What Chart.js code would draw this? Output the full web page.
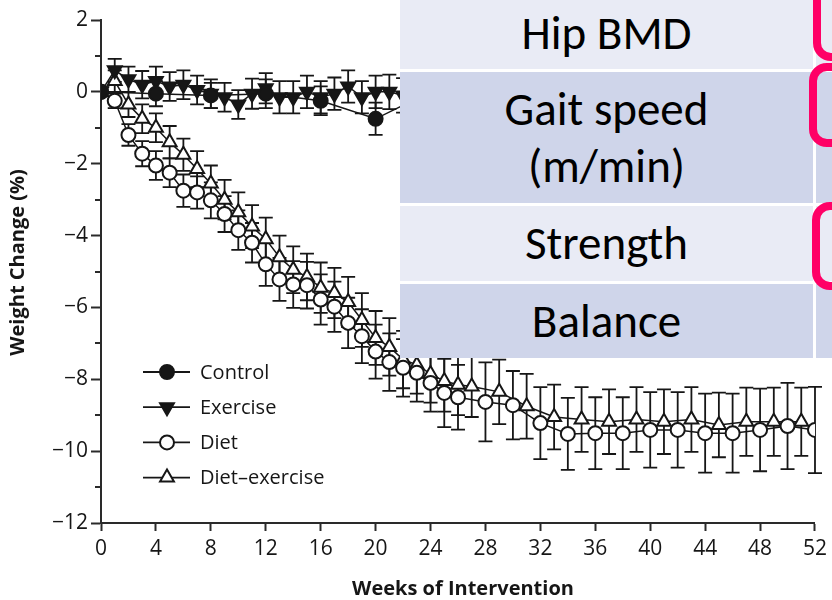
<!DOCTYPE html>
<html>
<head>
<meta charset="utf-8">
<script src="https://cdn.jsdelivr.net/npm/chart.js@4.4.1/dist/chart.umd.min.js"></script>
<style>
  html, body { margin: 0; padding: 0; background: #fff; }
  #stage { position: relative; width: 832px; height: 600px; overflow: hidden; background: #fff; }
  #chart { position: absolute; left: 0; top: 0; }
  .cell {
    position: absolute; display: flex; align-items: center; justify-content: center;
    text-align: center; font-family: Calibri, Carlito, Lato, sans-serif;
    font-size: 47px; line-height: 57px; color: #000;
  }
  .light { background: #E9EBF5; }
  .dark { background: #CFD5EA; }
  .bracket { position: absolute; border: 8px solid #FF0066; border-radius: 18px; box-sizing: border-box; }
</style>
</head>
<body>
<div id="stage">
  <canvas id="chart" width="832" height="600"></canvas>

  <!-- outcome table laid over the upper right of the figure -->
  <div class="cell light" style="left:400px;top:-2px;width:413px;height:71px">Hip BMD</div>
  <div class="cell light" style="left:816px;top:-2px;width:30px;height:71px"></div>
  <div class="cell dark" style="left:400px;top:72px;width:413px;height:131px">Gait speed<br>(m/min)</div>
  <div class="cell dark" style="left:816px;top:72px;width:30px;height:131px"></div>
  <div class="cell light" style="left:400px;top:206px;width:413px;height:75px">Strength</div>
  <div class="cell light" style="left:816px;top:206px;width:30px;height:75px"></div>
  <div class="cell dark" style="left:400px;top:284px;width:413px;height:74px">Balance</div>
  <div class="cell dark" style="left:816px;top:284px;width:30px;height:74px"></div>

  <div class="bracket" style="left:813px;top:-40px;width:80px;height:101px"></div>
  <div class="bracket" style="left:809px;top:63px;width:80px;height:84px"></div>
  <div class="bracket" style="left:812px;top:202px;width:80px;height:88px"></div>
</div>

<script>
// Weight change (%) over 52 weeks of intervention, mean with error bars
const controlWeeks  = [0, 4, 8, 12, 16, 20, 24, 28, 32, 36, 40, 44, 48, 52];
const controlChange = [0, -0.05, -0.1, -0.05, -0.25, -0.75, 0.0, -0.1, -0.3, -0.2, -0.4, -0.3, -0.5, -0.4];
const controlError  = [0, 0.35, 0.35, 0.4, 0.4, 0.45, 0.45, 0.45, 0.5, 0.5, 0.5, 0.5, 0.55, 0.55];

const exerciseWeeks  = [0, 1, 2, 3, 4, 5, 6, 7, 8, 9, 10, 11, 12, 13, 14, 15, 16, 17, 18, 19, 20,
                        21, 22, 23, 24, 25, 26, 28, 30, 32, 34, 36, 38, 40, 42, 44, 46, 48, 50, 52];
const exerciseChange = [0, 0.6, 0.35, 0.2, 0.3, 0.15, 0.2, 0.05, -0.05, -0.15, -0.35, -0.05, 0.1, -0.15,
                        -0.15, 0.0, -0.15, -0.05, 0.15, -0.15, 0.0, 0.0, -0.1, 0.05, -0.1, 0.0, -0.2,
                        -0.15, -0.3, -0.25, -0.4, -0.3, -0.45, -0.35, -0.5, -0.4, -0.55, -0.45, -0.6, -0.5];
const exerciseError  = [0, 0.32, 0.35, 0.38, 0.4, 0.4, 0.4, 0.4, 0.4, 0.4, 0.4, 0.42, 0.42, 0.45,
                        0.45, 0.45, 0.45, 0.45, 0.45, 0.45, 0.45, 0.48, 0.48, 0.48, 0.5, 0.5, 0.5,
                        0.5, 0.5, 0.52, 0.52, 0.52, 0.55, 0.55, 0.55, 0.55, 0.58, 0.58, 0.6, 0.6];

const dietWeeks  = [0, 1, 2, 3, 4, 5, 6, 7, 8, 9, 10, 11, 12, 13, 14, 15, 16, 17, 18, 19, 20,
                    21, 22, 23, 24, 25, 26, 28, 30, 32, 34, 36, 38, 40, 42, 44, 46, 48, 50, 52];
const dietChange = [0, -0.25, -1.2, -1.72, -2.05, -2.25, -2.75, -2.8, -3.02, -3.4, -3.85, -4.2, -4.8,
                    -5.22, -5.36, -5.38, -5.78, -5.98, -6.43, -6.8, -7.23, -7.52, -7.68, -7.82, -8.1,
                    -8.38, -8.5, -8.63, -8.72, -9.22, -9.52, -9.5, -9.5, -9.41, -9.41, -9.5, -9.5,
                    -9.41, -9.3, -9.41];
const dietError  = [0, 0.2, 0.3, 0.35, 0.4, 0.4, 0.45, 0.45, 0.5, 0.5, 0.55, 0.55, 0.6, 0.6, 0.65,
                    0.65, 0.7, 0.7, 0.7, 0.75, 0.75, 0.8, 0.8, 0.8, 0.8, 0.95, 0.9, 1.1, 0.95, 1.0,
                    1.0, 1.0, 1.0, 1.05, 1.05, 1.1, 1.1, 1.15, 1.2, 1.2];

const comboWeeks  = [0, 1, 2, 3, 4, 5, 6, 7, 8, 9, 10, 11, 12, 13, 14, 15, 16, 17, 18, 19, 20,
                     21, 22, 23, 24, 25, 26, 27, 29, 31, 33, 35, 37, 39, 41, 43, 45, 47, 49, 51];
const comboChange = [0, 0.3, -0.35, -0.75, -1.0, -1.4, -1.75, -2.15, -2.55, -3.0, -3.35, -3.75, -4.1,
                     -4.6, -4.95, -5.15, -5.45, -5.6, -5.85, -6.35, -6.85, -7.1, -7.45, -7.6, -7.85,
                     -8.05, -8.15, -8.2, -8.35, -8.75, -9.05, -9.12, -9.18, -9.12, -9.18, -9.12,
                     -9.27, -9.18, -9.18, -9.18];
const comboError  = [0, 0.3, 0.35, 0.4, 0.4, 0.45, 0.45, 0.5, 0.5, 0.55, 0.55, 0.6, 0.6, 0.6, 0.65,
                     0.65, 0.7, 0.7, 0.7, 0.75, 0.75, 0.8, 0.8, 0.8, 0.8, 0.85, 0.85, 0.85, 0.9, 0.9,
                     0.9, 0.9, 0.9, 0.9, 0.9, 0.9, 0.9, 0.95, 0.95, 0.95];

const seriesLabels = ['Control', 'Exercise', 'Diet', 'Diet\u2013exercise'];
const xTickStep = 4;
const yMin = -12, yMax = 2;

const INK = '#161616';
const FONT = "'Open Sans', 'DejaVu Sans', sans-serif";

function points(weeks, values) {
  return weeks.map((w, i) => ({ x: w, y: values[i] }));
}

function series(label, weeks, values, errors, style, filled, rotation, radius) {
  return {
    label,
    data: points(weeks, values),
    errors,
    showLine: true,
    tension: 0,
    borderColor: INK,
    borderWidth: 1.5,
    pointStyle: style,
    pointRotation: rotation,
    pointRadius: radius,
    pointHoverRadius: radius,
    pointBackgroundColor: filled ? INK : '#ffffff',
    pointBorderColor: INK,
    pointBorderWidth: 2
  };
}

// draws one marker the same way the datasets show it
function marker(ctx, ds, x, y) {
  const r = ds.pointRadius;
  ctx.save();
  ctx.fillStyle = ds.pointBackgroundColor;
  ctx.strokeStyle = ds.pointBorderColor;
  ctx.lineWidth = ds.pointBorderWidth;
  ctx.beginPath();
  if (ds.pointStyle === 'circle') {
    ctx.arc(x, y, r, 0, Math.PI * 2);
  } else {
    let a = (ds.pointRotation || 0) * Math.PI / 180;
    for (let k = 0; k < 3; k++) {
      const px = x + Math.sin(a) * r, py = y - Math.cos(a) * r;
      if (k === 0) ctx.moveTo(px, py); else ctx.lineTo(px, py);
      a += 2 * Math.PI / 3;
    }
    ctx.closePath();
  }
  ctx.fill();
  ctx.stroke();
  ctx.restore();
}

// vertical error bars with caps, under the lines and markers
const errorBars = {
  id: 'errorBars',
  beforeDatasetsDraw(chart) {
    const { ctx, scales: { x, y } } = chart;
    ctx.save();
    ctx.strokeStyle = INK;
    ctx.lineWidth = 1.8;
    const cap = 7;
    for (let i = chart.data.datasets.length - 1; i >= 0; i--) {
      const ds = chart.data.datasets[i];
      ds.data.forEach((p, j) => {
        const e = ds.errors[j];
        if (!e) return;
        const px = x.getPixelForValue(p.x);
        const top = y.getPixelForValue(p.y + e);
        const bot = y.getPixelForValue(p.y - e);
        ctx.beginPath();
        ctx.moveTo(px, top); ctx.lineTo(px, bot);
        ctx.moveTo(px - cap, top); ctx.lineTo(px + cap, top);
        ctx.moveTo(px - cap, bot); ctx.lineTo(px + cap, bot);
        ctx.stroke();
      });
    }
    ctx.restore();
  }
};

// short unlabeled ticks at the odd values of the y axis
const minorTicks = {
  id: 'minorTicks',
  afterDraw(chart) {
    const { ctx } = chart;
    const y = chart.scales.y;
    ctx.save();
    ctx.strokeStyle = '#2a2a2a';
    ctx.lineWidth = 2;
    for (let v = Math.ceil(y.min); v <= y.max; v++) {
      if (v % 2 === 0) continue;
      const py = Math.round(y.getPixelForValue(v));
      ctx.beginPath();
      ctx.moveTo(y.right - 6, py);
      ctx.lineTo(y.right, py);
      ctx.stroke();
    }
    ctx.restore();
  }
};

// key inside the plot area, lower left
const keyBox = {
  id: 'keyBox',
  afterDatasetsDraw(chart) {
    const { ctx, chartArea } = chart;
    const x0 = chartArea.left + 42, x1 = chartArea.left + 89, mx = chartArea.left + 66;
    const tx = chartArea.left + 99;
    const y0 = chartArea.top + 352, step = 35.2;
    ctx.save();
    chart.data.datasets.forEach((ds, i) => {
      const yy = y0 + i * step;
      ctx.strokeStyle = INK;
      ctx.lineWidth = 1.8;
      ctx.beginPath();
      ctx.moveTo(x0, yy); ctx.lineTo(x1, yy);
      ctx.stroke();
      marker(ctx, ds, mx, yy);
      ctx.fillStyle = INK;
      ctx.font = '20px ' + FONT;
      ctx.textAlign = 'left';
      ctx.textBaseline = 'middle';
      ctx.fillText(ds.label, tx, yy + 1);
    });
    ctx.restore();
  }
};

// axis titles
const axisTitles = {
  id: 'axisTitles',
  afterDraw(chart) {
    const { ctx, chartArea } = chart;
    ctx.save();
    ctx.fillStyle = INK;
    ctx.font = 'bold 20px ' + FONT;
    ctx.textAlign = 'center';
    ctx.textBaseline = 'middle';
    ctx.fillText('Weeks of Intervention', (chartArea.left + chartArea.right) / 2 + 5, chart.height - 11);
    ctx.translate(18, (chartArea.top + chartArea.bottom) / 2 - 9);
    ctx.rotate(-Math.PI / 2);
    ctx.fillText('Weight Change (%)', 0, 0);
    ctx.restore();
  }
};

new Chart(document.getElementById('chart'), {
  type: 'scatter',
  data: {
    datasets: [
      series(seriesLabels[0], controlWeeks, controlChange, controlError, 'circle', true, 0, 7),
      series(seriesLabels[1], exerciseWeeks, exerciseChange, exerciseError, 'triangle', true, 180, 8),
      series(seriesLabels[2], dietWeeks, dietChange, dietError, 'circle', false, 0, 7),
      series(seriesLabels[3], comboWeeks, comboChange, comboError, 'triangle', false, 0, 8)
    ]
  },
  options: {
    responsive: false,
    animation: false,
    devicePixelRatio: 1,
    layout: { padding: { left: 0, top: 20, right: 14, bottom: 0 } },
    plugins: { legend: { display: false }, tooltip: { enabled: false } },
    scales: {
      x: {
        type: 'linear',
        min: 0, max: 52,
        afterFit(scale) { scale.height = 77; },
        border: { display: true, color: '#2a2a2a', width: 2 },
        grid: { display: true, drawOnChartArea: false, drawTicks: true, tickLength: 8, tickWidth: 2, tickColor: '#2a2a2a' },
        ticks: { stepSize: xTickStep, padding: 5, color: INK, font: { family: FONT, size: 21 } }
      },
      y: {
        type: 'linear',
        min: yMin, max: yMax,
        afterFit(scale) { scale.width = 101; },
        border: { display: true, color: '#2a2a2a', width: 2 },
        grid: { display: true, drawOnChartArea: false, drawTicks: true, tickLength: 10, tickWidth: 2, tickColor: '#2a2a2a' },
        ticks: {
          stepSize: 2, padding: 3, color: INK, font: { family: FONT, size: 21 },
          callback: v => (v < 0 ? '\u2212' + Math.abs(v) : String(v))
        }
      }
    }
  },
  plugins: [errorBars, minorTicks, keyBox, axisTitles]
});
</script>
</body>
</html>
